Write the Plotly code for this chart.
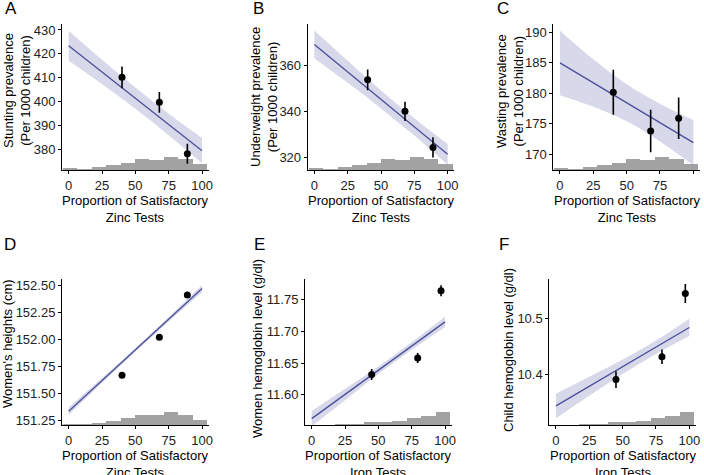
import plotly.graph_objects as go

W, H = 704, 475
FONT = "Liberation Sans, Arial, Helvetica, sans-serif"

# histogram of test proportions (relative counts per bin)
bin_centers = [1.1, 11.9, 22.7, 33.5, 44.3, 55.1, 65.9, 76.7, 87.5, 98.3]
zinc_counts = [5, 3, 8, 15, 22, 32, 31, 40, 32, 18]
iron_counts = [1, 1, 2, 3, 12, 12, 14, 22, 29, 39]

band_x = [0, 25, 50, 75, 100]
fit_x = [0, 100]

# A - stunting
stunt_x = [40, 68, 89]
stunt_y = [410.1, 399.6, 378.0]
stunt_err = [4.6, 4.4, 4.2]
stunt_fit = [423.4, 379.3]
stunt_up = [429.7, 417.5, 405.8, 394.8, 384.6]
stunt_lo = [417.1, 407.3, 396.9, 385.8, 374.0]

# B - underweight
under_x = [40, 68, 89]
under_y = [353.7, 340.0, 324.3]
under_err = [4.5, 4.2, 4.4]
under_fit = [369.1, 321.3]
under_up = [375.2, 362.0, 349.1, 337.0, 325.8]
under_lo = [363.0, 352.4, 341.3, 329.5, 316.8]

# C - wasting
waste_x = [40, 68, 89]
waste_y = [180.2, 173.8, 175.9]
waste_err = [3.7, 3.5, 3.4]
waste_fit = [185.0, 171.9]
waste_up = [190.3, 185.6, 181.5, 178.3, 175.6]
waste_lo = [179.7, 177.8, 175.4, 172.1, 168.2]

# D - women's heights
height_x = [40, 68, 89]
height_y = [151.67, 152.02, 152.41]
height_err = [0.015, 0.015, 0.015]
height_fit = [151.338, 152.47]
height_up = [151.373, 151.644, 151.922, 152.207, 152.503]
height_lo = [151.303, 151.598, 151.886, 152.167, 152.437]

# E - women hemoglobin
whb_x = [45, 79.5, 97]
whb_y = [11.632, 11.658, 11.764]
whb_err = [0.0087, 0.008, 0.0087]
whb_fit = [11.5625, 11.715]
whb_up = [11.5745, 11.6096, 11.6448, 11.6829, 11.723]
whb_lo = [11.5505, 11.5916, 11.6328, 11.6709, 11.707]

# F - child hemoglobin
chb_x = [45, 79.5, 97]
chb_y = [10.391, 10.432, 10.5455]
chb_err = [0.015, 0.013, 0.017]
chb_fit = [10.3438, 10.4845]
chb_up = [10.3658, 10.396, 10.427, 10.461, 10.500]
chb_lo = [10.3218, 10.362, 10.401, 10.437, 10.469]

panels = [
    dict(letter="A", px_x=(62, 208.7), px_y=(24, 170), yr=[371.2, 432.5],
         ticks=[380, 390, 400, 410, 420, 430], fmt="d", hist=zinc_counts,
         pts=(stunt_x, stunt_y, stunt_err), fit=stunt_fit, band=(stunt_up, stunt_lo),
         ytitle="Stunting prevalence<br>(Per 1000 children)", ytx=17, yty=91,
         xtitle="Proportion of Satisfactory<br>Zinc Tests", lx=3, ly=9),
    dict(letter="B", px_x=(307.7, 454.3), px_y=(24, 170), yr=[314.5, 378],
         ticks=[320, 340, 360], fmt="d", hist=zinc_counts,
         pts=(under_x, under_y, under_err), fit=under_fit, band=(under_up, under_lo),
         ytitle="Underweight prevalence<br>(Per 1000 children)", ytx=264, yty=97,
         xtitle="Proportion of Satisfactory<br>Zinc Tests", lx=251, ly=9),
    dict(letter="C", px_x=(553.3, 700), px_y=(24, 170), yr=[167.4, 191.4],
         ticks=[170, 175, 180, 185, 190], fmt="d", hist=zinc_counts,
         pts=(waste_x, waste_y, waste_err), fit=waste_fit, band=(waste_up, waste_lo),
         ytitle="Wasting prevalence<br>(Per 1000 children)", ytx=510, yty=91,
         xtitle="Proportion of Satisfactory<br>Zinc Tests", lx=495, ly=9),
    dict(letter="D", px_x=(62, 208.7), px_y=(278.7, 425.3), yr=[151.208, 152.561],
         ticks=[151.25, 151.5, 151.75, 152.0, 152.25, 152.5], fmt=".2f", hist=zinc_counts,
         pts=(height_x, height_y, height_err), fit=height_fit, band=(height_up, height_lo),
         ytitle="Women's heights (cm)", ytx=7, yty=344,
         xtitle="Proportion of Satisfactory<br>Zinc Tests", lx=2, ly=244.5),
    dict(letter="E", px_x=(305, 451.7), px_y=(278.7, 425.3), yr=[11.552, 11.783],
         ticks=[11.60, 11.65, 11.70, 11.75], fmt=".2f", hist=iron_counts,
         pts=(whb_x, whb_y, whb_err), fit=whb_fit, band=(whb_up, whb_lo),
         ytitle="Women hemoglobin level (g/dl)", ytx=257, yty=349,
         xtitle="Proportion of Satisfactory<br>Iron Tests", lx=252, ly=244.5),
    dict(letter="F", px_x=(549.3, 696), px_y=(278.7, 425.3), yr=[10.309, 10.572],
         ticks=[10.4, 10.5], fmt=".1f", hist=iron_counts,
         pts=(chb_x, chb_y, chb_err), fit=chb_fit, band=(chb_up, chb_lo),
         ytitle="Child hemoglobin level (g/dl)", ytx=508, yty=350,
         xtitle="Proportion of Satisfactory<br>Iron Tests", lx=497, ly=244.5),
]

LINE_COL = "#4b4f9b"
BAND_COL = "rgba(75,79,155,0.22)"
HIST_COL = "#a2a2a2"

fig = go.Figure()
layout = {}
annotations = []

for i, p in enumerate(panels):
    k = i + 1
    xa = "x" if k == 1 else f"x{k}"
    yb = "y" if k == 1 else f"y{k}"       # base axis: histogram
    yd = f"y{k + 6}"                       # overlay axis: data
    x0, x1 = p["px_x"]
    ytop, ybot = p["px_y"]
    xdom = [x0 / W, x1 / W]
    ydom = [1 - ybot / H, 1 - ytop / H]

    layout["xaxis" if k == 1 else f"xaxis{k}"] = dict(
        domain=xdom, anchor=yb, range=[-5, 105], tickvals=[0, 25, 50, 75, 100],
        showline=True, linecolor="black", linewidth=1, ticks="outside", ticklen=3,
        tickcolor="black", showgrid=False, zeroline=False, automargin=False,
        tickfont=dict(size=13, color="#222", family=FONT))
    layout["yaxis" if k == 1 else f"yaxis{k}"] = dict(
        domain=ydom, anchor=xa, range=[0, max(p["hist"]) / 0.091], visible=False,
        showgrid=False, zeroline=False, automargin=False)
    layout[f"yaxis{k + 6}"] = dict(
        overlaying=yb, anchor=xa, side="left", range=p["yr"], tickvals=p["ticks"],
        tickformat=p["fmt"], showline=True, linecolor="black", linewidth=1,
        ticks="outside", ticklen=3, tickcolor="black", showgrid=False, zeroline=False,
        automargin=False, tickfont=dict(size=13, color="#222", family=FONT))

    fig.add_trace(go.Bar(x=bin_centers, y=p["hist"], width=10.8, marker_color=HIST_COL,
                         marker_line_width=0, xaxis=xa, yaxis=yb, showlegend=False))

    up, lo = p["band"]
    fig.add_trace(go.Scatter(x=band_x, y=up, mode="lines", line=dict(width=0, shape="spline"),
                             xaxis=xa, yaxis=yd, showlegend=False, hoverinfo="skip"))
    fig.add_trace(go.Scatter(x=band_x, y=lo, mode="lines", line=dict(width=0, shape="spline"),
                             fill="tonexty", fillcolor=BAND_COL,
                             xaxis=xa, yaxis=yd, showlegend=False, hoverinfo="skip"))
    fig.add_trace(go.Scatter(x=fit_x, y=p["fit"], mode="lines",
                             line=dict(color=LINE_COL, width=1.3),
                             xaxis=xa, yaxis=yd, showlegend=False))
    px_, py_, pe_ = p["pts"]
    fig.add_trace(go.Scatter(x=px_, y=py_, mode="markers",
                             marker=dict(color="black", size=7),
                             error_y=dict(type="data", array=pe_, color="black",
                                          thickness=1.6, width=0),
                             xaxis=xa, yaxis=yd, showlegend=False))

    # x title centred on 0-100
    xc = x0 + (x1 - x0) * 55 / 110
    annotations.append(dict(text=p["xtitle"], x=xc / W, y=1 - (ybot + 39) / H,
                            xref="paper", yref="paper", xanchor="center", yanchor="middle",
                            showarrow=False, font=dict(size=13, color="black", family=FONT)))
    annotations.append(dict(text=p["ytitle"], x=p["ytx"] / W, y=1 - p["yty"] / H,
                            xref="paper", yref="paper", xanchor="center", yanchor="middle",
                            textangle=-90, showarrow=False,
                            font=dict(size=13, color="black", family=FONT)))
    annotations.append(dict(text=p["letter"], x=p["lx"] / W, y=1 - p["ly"] / H,
                            xref="paper", yref="paper", xanchor="left", yanchor="middle",
                            showarrow=False, font=dict(size=17, color="black", family=FONT)))

fig.update_layout(**layout)
fig.update_layout(width=W, height=H, margin=dict(l=0, r=0, t=0, b=0, autoexpand=False),
                  paper_bgcolor="white", plot_bgcolor="white", bargap=0,
                  annotations=annotations, font=dict(family=FONT))

# page body has a default 8px margin; drop it so the figure fills the window
fig.write_html("out.html", config={"displayModeBar": False},
               post_script="document.body.style.margin='0px';")
